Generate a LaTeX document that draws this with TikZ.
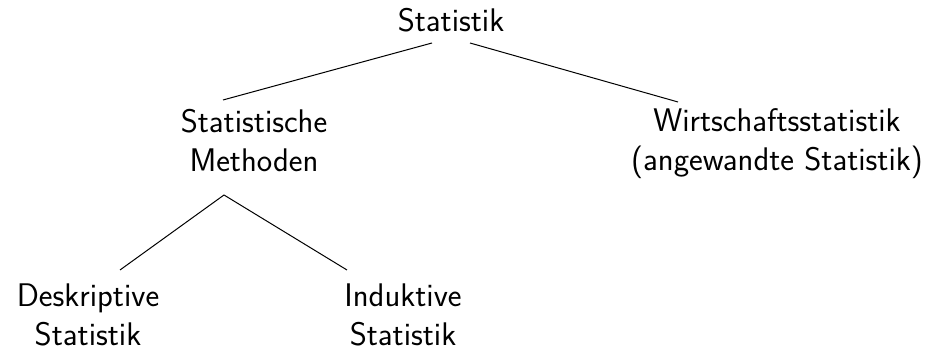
\documentclass[tikz,border=0pt]{standalone}
\begin{document}
\begin{tikzpicture}[x=0.5pt,y=-0.5pt,
  lbl/.style={anchor=base,inner sep=0pt,align=center,font=\fontsize{16.35}{19.5}\selectfont\sffamily},
  edge/.style={line width=0.5pt,black}]
\useasboundingbox (0,0) rectangle (928,351);
\node[lbl] (top) at (451,32) {Statistik};
\node[lbl] (sm) at (254,172) {Statistische\\Methoden};
\node[lbl] (ws) at (777,171) {Wirtschaftsstatistik\\(angewandte Statistik)};
\node[lbl] (desk) at (88,346) {Deskriptive\\Statistik};
\node[lbl] (ind) at (403,346) {Induktive\\Statistik};
\draw[edge] ([shift={(-19,11)}]top.base) -- ([shift={(-31,-72)}]sm.base);
\draw[edge] ([shift={(19,11)}]top.base) -- ([shift={(-99,-69)}]ws.base);
\draw[edge] ([shift={(-30,23)}]sm.base) -- ([shift={(32,-76)}]desk.base);
\draw[edge] ([shift={(-30,23)}]sm.base) -- ([shift={(-56,-76)}]ind.base);
\end{tikzpicture}
\end{document}
